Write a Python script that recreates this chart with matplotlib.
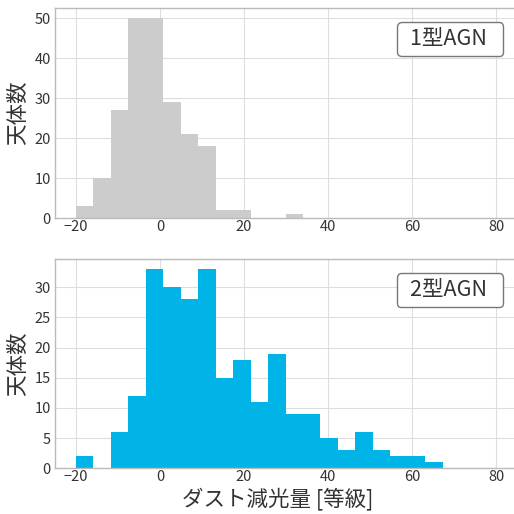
import numpy as np
import matplotlib
matplotlib.use('Agg')
import matplotlib.pyplot as plt
import matplotlib.patches as mpatches

plt.rcParams['font.family'] = ['Noto Sans CJK JP', 'DejaVu Sans']

# ビン（-20 から約 67.3 等級まで 21 本）
bin_edges = np.linspace(-20, 67.3, 22)

# 1型AGN の度数
type1_counts = [3, 10, 27, 50, 50, 29, 21, 18, 2, 2, 0, 0, 1,
                0, 0, 0, 0, 0, 0, 0, 0]
# 2型AGN の度数
type2_counts = [2, 0, 6, 12, 33, 30, 28, 33, 15, 18, 11, 19, 9,
                9, 5, 3, 6, 3, 2, 2, 1]

type1_yticks = [0, 10, 20, 30, 40, 50]
type2_yticks = [0, 5, 10, 15, 20, 25, 30]
xticks = [-20, 0, 20, 40, 60, 80]

panels = [
    ('1型AGN', type1_counts, '#cccccc', type1_yticks),
    ('2型AGN', type2_counts, '#00b4e8', type2_yticks),
]

fig = plt.figure(figsize=(5.14, 5.14), dpi=100)
axes = [fig.add_axes([0.107, 0.5753, 0.899, 0.409]),
        fig.add_axes([0.107, 0.0889, 0.899, 0.407])]

centers = (bin_edges[:-1] + bin_edges[1:]) / 2
for ax, (name, counts, color, yticks) in zip(axes, panels):
    ax.hist(centers, bins=bin_edges, weights=counts, color=color, zorder=2)
    ax.set_xlim(-25, 85)
    ax.set_xticks(xticks)
    ax.set_yticks(yticks)
    ax.grid(True, color='#dddddd', linewidth=0.8, zorder=0)
    ax.set_axisbelow(True)
    for s in ax.spines.values():
        s.set_color('#bbbbbb')
        s.set_linewidth(1.0)
    ax.tick_params(length=0, labelsize=10.5, labelcolor='#333333')
    ax.tick_params(axis='x', pad=1)
    ax.tick_params(axis='y', pad=3)
    ax.set_ylabel('天体数', fontsize=15.5, color='#333333')
    ax.yaxis.set_label_coords(-0.056, 0.5)
    leg = ax.legend(handles=[mpatches.Patch(alpha=0)], labels=[name + '  '],
                    handlelength=0.32, handletextpad=0, loc='upper right',
                    fontsize=15.5, borderpad=0.28, borderaxespad=0.66,
                    fancybox=True, framealpha=1)
    leg.get_frame().set_edgecolor('#777777')
    leg.get_frame().set_linewidth(1.0)
    for t in leg.get_texts():
        t.set_color('#333333')

axes[1].set_xlabel('ダスト減光量 [等級]', fontsize=15.5, color='#333333')
axes[1].xaxis.set_label_coords(0.4816, -0.147)
axes[1].xaxis.label.set_va('center')

fig.savefig('out.png', dpi=100)
